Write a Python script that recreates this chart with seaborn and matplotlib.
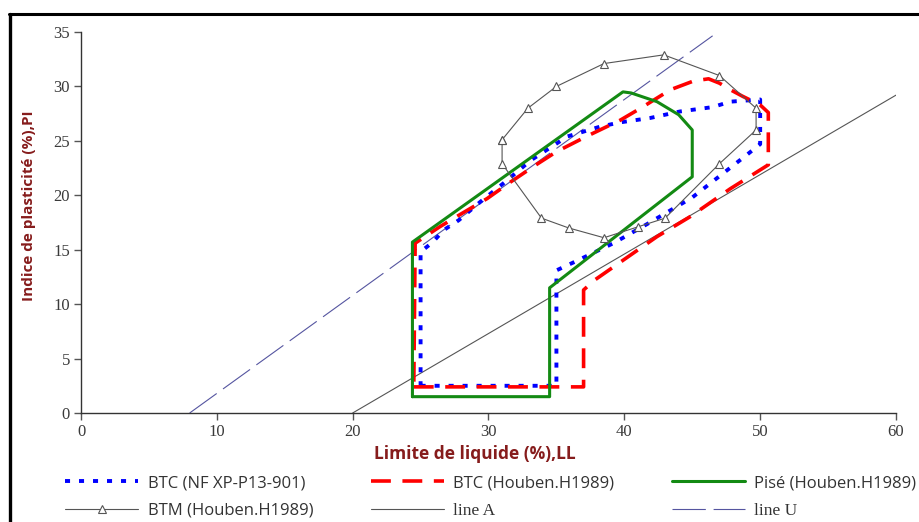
import matplotlib
matplotlib.use("Agg")
import matplotlib.pyplot as plt
from matplotlib.lines import Line2D
import seaborn as sns

# data (LL = liquid limit, PI = plasticity index)
btc_nf_ll = [25, 35, 35, 36.2, 39.2, 41.6, 45, 49, 50, 50, 47.8, 46.5, 44.1, 41.9,
             39.7, 38.2, 35.8, 33.1, 31.2, 29.4, 27.8, 26.7, 25.9, 25, 25]
btc_nf_pi = [2.5, 2.5, 13.1, 13.8, 15.6, 17.3, 19.8, 23.7, 24.7, 28.8, 28.6, 28.1, 27.7, 27.1,
             26.7, 26.3, 25.4, 23.2, 21.2, 19.4, 17.7, 16.8, 15.7, 14.8, 2.5]

btc_h_ll = [24.5, 37, 37, 37.8, 42.4, 44.8, 47.8, 50.6, 50.6, 50, 48.7, 47.8, 47, 46.2, 45.1,
            43.4, 41.2, 39.7, 37.2, 35, 33.5, 31.6, 29.9, 28, 26.4, 24.6, 24.5]
btc_h_pi = [2.4, 2.4, 11.3, 12.2, 16.2, 18, 20.6, 22.8, 27.6, 28.3, 29.1, 29.7, 30.3, 30.7, 30.5,
            29.7, 28, 26.9, 25.4, 24, 22.8, 21.2, 19.7, 18.3, 17.1, 15.6, 2.4]

pise_ll = [24.4, 34.5, 34.5, 45, 45, 44, 42.4, 40.5, 39.9, 24.4, 24.4]
pise_pi = [1.5, 1.5, 11.5, 21.7, 26, 27.4, 28.6, 29.4, 29.5, 15.7, 1.5]

btm_ll = [31, 31, 33.9, 35.9, 38.5, 41, 43, 47, 49.7, 49.7, 47, 42.9, 38.5, 35, 32.9, 31]
btm_pi = [25.1, 22.9, 17.9, 17, 16.1, 17.1, 17.9, 22.9, 26, 28, 31, 32.9, 32.1, 30, 28, 25.1]

line_a_ll = [20, 60]
line_a_pi = [0, 29.2]
line_u_ll = [8, 46.5]
line_u_pi = [0, 34.65]

x_ticks = [0, 10, 20, 30, 40, 50, 60]
y_ticks = [0, 5, 10, 15, 20, 25, 30, 35]

sns.set_style("ticks")
fig = plt.figure(figsize=(9.2, 5.22), dpi=100)
ax = fig.add_axes([81 / 920, 1 - 413 / 522, 815 / 920, 381 / 522])

sns.lineplot(x=line_u_ll, y=line_u_pi, ax=ax, color="#5555a0", lw=0.8,
             linestyle=(0, (30, 7)), label="line U", legend=False)
sns.lineplot(x=line_a_ll, y=line_a_pi, ax=ax, color="#555555", lw=0.8,
             label="line A", legend=False)
sns.lineplot(x=btc_nf_ll, y=btc_nf_pi, ax=ax, sort=False, estimator=None, color="#0000ff",
             lw=2.8, linestyle=(0, (1.3, 2.3)), label="BTC (NF XP-P13-901)", legend=False)
sns.lineplot(x=btc_h_ll, y=btc_h_pi, ax=ax, sort=False, estimator=None, color="#ff0000",
             lw=2.6, linestyle=(0, (5.5, 3.2)), label="BTC (Houben.H1989)", legend=False)
sns.lineplot(x=pise_ll, y=pise_pi, ax=ax, sort=False, estimator=None, color="#138a13",
             lw=2.2, label="Pisé (Houben.H1989)", legend=False)
sns.lineplot(x=btm_ll, y=btm_pi, ax=ax, sort=False, estimator=None, color="#555555",
             lw=0.8, marker="^", markersize=6, markerfacecolor="white",
             markeredgecolor="#555555", markeredgewidth=0.8,
             label="BTM (Houben.H1989)", legend=False)

ax.set_xlim(0, 60)
ax.set_ylim(0, 35)
ax.set_xticks(x_ticks)
ax.set_yticks(y_ticks)
sns.despine(ax=ax)
for s in ["left", "bottom"]:
    ax.spines[s].set_color("#333333")
    ax.spines[s].set_linewidth(1.0)
ax.tick_params(direction="out", length=5, width=1, color="#555555",
               labelcolor="#3a3a3a", labelsize=12, pad=3)
for t in ax.get_xticklabels() + ax.get_yticklabels():
    t.set_fontfamily("Liberation Serif")

lab_font = dict(family="Open Sans", weight="bold", color="#861c1c")
ax.set_xlabel("Limite de liquide (%),LL", size=12.5, **lab_font)
ax.set_ylabel("Indice de plasticité (%),PI", size=11, **lab_font)
ax.xaxis.set_label_coords((475 - 81) / 815, -32 / 381)
ax.yaxis.set_label_coords((36 - 81) / 815, (413 - 206) / 381)

# legend in the order row by row: col1 = BTC NF, BTM ; col2 = BTC H, line A ; col3 = Pisé, line U
handles, labels = ax.get_legend_handles_labels()
lookup = dict(zip(labels, handles))
order = ["BTC (NF XP-P13-901)", "BTM (Houben.H1989)", "BTC (Houben.H1989)",
         "line A", "Pisé (Houben.H1989)", "line U"]
leg = fig.legend([lookup[k] for k in order], order, loc="upper left",
                 bbox_to_anchor=(65 / 920, 1 - 475 / 522), ncol=3, frameon=False,
                 borderpad=0, borderaxespad=0, handlelength=4.4, handletextpad=0.55,
                 columnspacing=3.45, labelspacing=0.7,
                 prop={"family": "Open Sans", "size": 12})
for t in leg.get_texts():
    t.set_color("#333333")
    if t.get_text().startswith("line"):
        t.set_fontfamily("Liberation Serif")
        t.set_fontsize(12.5)

# page frame of the screenshot
fig.add_artist(Line2D([10 / 920, 10 / 920], [0, 1 - 13.5 / 522], color="black", lw=2.4,
                      transform=fig.transFigure))
fig.add_artist(Line2D([9 / 920, 1], [1 - 13.5 / 522, 1 - 13.5 / 522], color="black", lw=2.2,
                      transform=fig.transFigure))

fig.savefig("out.png", dpi=100)
